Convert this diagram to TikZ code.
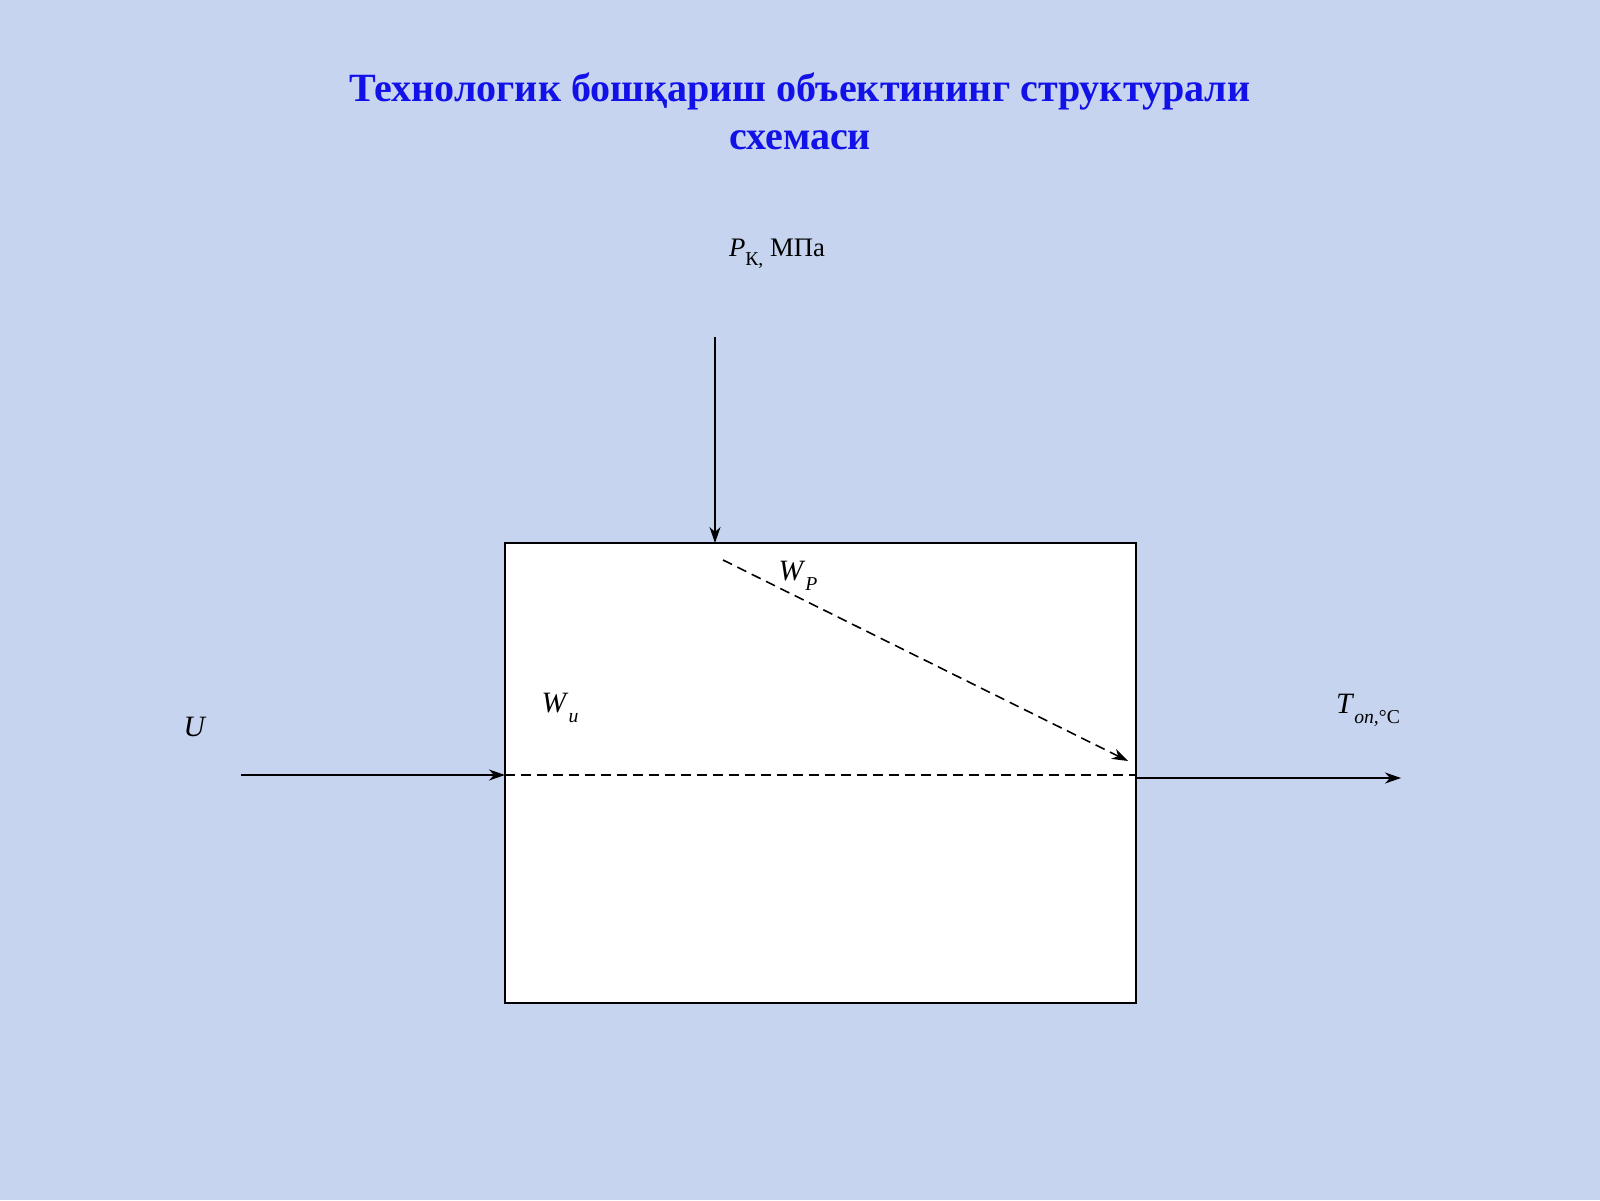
\documentclass[tikz,border=0pt]{standalone}
\usepackage{fontspec}
\setmainfont{Liberation Serif}
\usetikzlibrary{arrows.meta}
\definecolor{fondo}{RGB}{198,212,240}
\definecolor{titolo}{RGB}{18,18,232}
\newcommand{\pedice}[1]{\raisebox{-0.75ex}{\fontsize{5.6}{6}\selectfont #1}}
\tikzset{
	punta/.tip={Stealth[length=1.6mm,width=1.1mm,inset=0.5mm]},
	freccia/.style={-punta, line width=0.45pt},
	tratto/.style={dash pattern=on 1mm off 0.6mm, line width=0.45pt},
	etichetta/.style={font=\fontsize{8.4}{10}\selectfont, inner sep=0pt}
}
\begin{document}
\begin{tikzpicture}
	
	\fill[fondo] (0,0) rectangle (16,12);
	\useasboundingbox (0,0) rectangle (16,12);
	
	\node[text=titolo, align=center, font=\fontsize{11.4}{13.7}\selectfont\bfseries] (titolo) at (8.0,10.89)
		{Технологик бошқариш объектининг структурали\\схемаси};
	
	%oggetto
	\node[draw, fill=white, line width=0.6pt, minimum width=6.31cm, minimum height=4.6cm, inner sep=0pt]
		(oggetto) at (8.205,4.27) {};
	
	\coordinate (pin) at (7.15,8.63);
	\coordinate (pout) at (7.15,6.57);
	\coordinate (uin) at (2.41,4.25);
	\coordinate (uout) at (5.05,4.25);
	\coordinate (dfine) at (11.36,4.25);
	\coordinate (tin) at (11.36,4.22);
	\coordinate (tout) at (14.01,4.22);
	\coordinate (wpin) at (7.23,6.40);
	\coordinate (wpout) at (11.28,4.39);
	
	\draw[freccia] (pin) -- (pout);
	\draw[freccia] (uin) -- (uout);
	\draw[tratto] (uout) -- (dfine);
	\draw[tratto, -punta] (wpin) -- (wpout);
	\draw[freccia] (tin) -- (tout);
	
	%etichette
	\node[etichetta, font=\fontsize{7.6}{9}\selectfont] (pk) at (7.77,9.46)
		{\textit{P}\pedice{К,} МПа};
	\node[etichetta] (wp) at (7.98,6.24) {\textit{W}\pedice{\textit{P}}};
	\node[etichetta] (wu) at (5.60,4.92) {\textit{W}\pedice{\textit{и}}};
	\node[etichetta] (u) at (1.95,4.73) {\textit{U}};
	\node[etichetta] (t) at (13.68,4.90) {\textit{T}\pedice{\textit{оп,}°С}};
	
\end{tikzpicture}
\end{document}
